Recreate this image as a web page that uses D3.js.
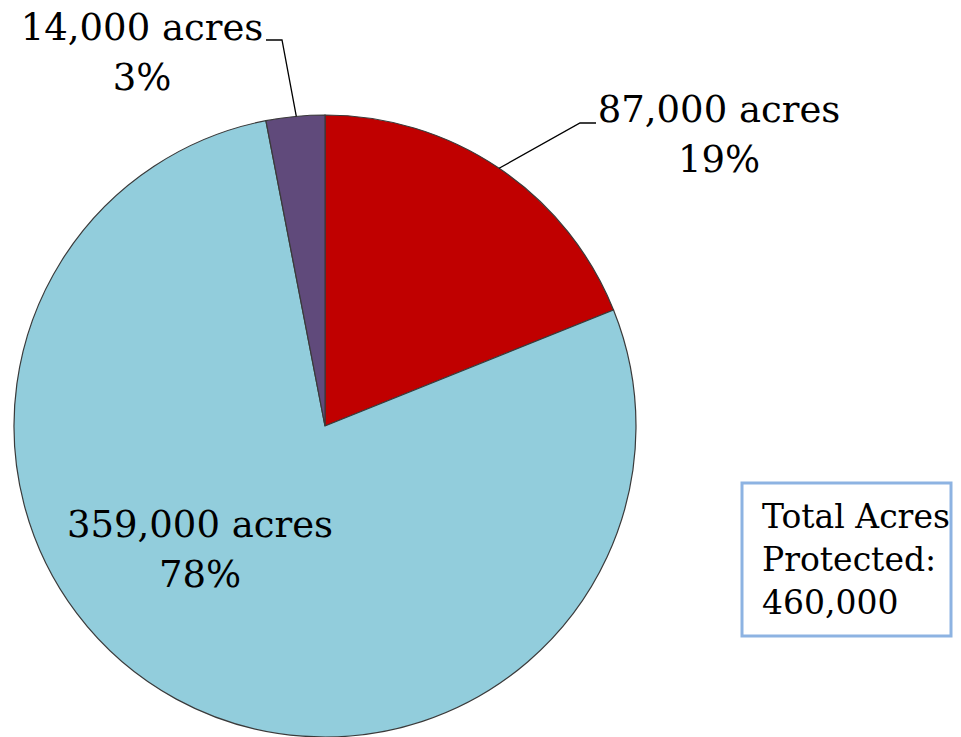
<!DOCTYPE html>
<html>
<head>
<meta charset="utf-8">
<script src="https://cdn.jsdelivr.net/npm/d3@7"></script>
<style>
  body { margin: 0; background: #fff; }
  svg { display: block; }
</style>
</head>
<body>
<div id="vis"></div>
<script>
// chart data
var categories = ["87,000 acres", "359,000 acres", "14,000 acres"];
var acres = [87000, 359000, 14000];
var percents = ["19%", "78%", "3%"];
var colors = ["#C00000", "#92CDDC", "#604A7B"];
var totalLines = ["Total Acres", "Protected:", "460,000"];

var font = '"DejaVu Serif", "Liberation Serif", serif';
var W = 961, H = 737;
var cx = 325, cy = 426, r = 311;

var svg = d3.select("#vis").append("svg")
    .attr("width", W)
    .attr("height", H);

var pie = d3.pie().sort(null).value(d => d);
var arcs = pie(acres);
var arc = d3.arc().innerRadius(0).outerRadius(r);

var g = svg.append("g").attr("transform", "translate(" + cx + "," + cy + ")");

g.selectAll("path")
    .data(arcs)
    .enter()
    .append("path")
    .attr("d", arc)
    .attr("fill", (d, i) => colors[i])
    .attr("stroke", "#3a3a3a")
    .attr("stroke-width", 1.2);

// label positions (center of text block, first baseline)
var labelPos = [
    { x: 719, y: 122 },
    { x: 200, y: 537 },
    { x: 142, y: 40 }
];

arcs.forEach(function (d, i) {
    var t = svg.append("text")
        .attr("text-anchor", "middle")
        .style("font-family", font)
        .style("font-size", "37px")
        .attr("fill", "#000");
    t.append("tspan").attr("x", labelPos[i].x).attr("y", labelPos[i].y).text(categories[i]);
    t.append("tspan").attr("x", labelPos[i].x).attr("y", labelPos[i].y + 50).text(percents[i]);
});

// leader lines
function edgePoint(d) {
    var a = (d.startAngle + d.endAngle) / 2;
    return [cx + Math.sin(a) * r, cy - Math.cos(a) * r];
}
var pRed = edgePoint(arcs[0]);
var pPurple = edgePoint(arcs[2]);
svg.append("polyline")
    .attr("points", [pRed, [580, 123], [596, 123]].map(p => p.join(",")).join(" "))
    .attr("fill", "none")
    .attr("stroke", "#000")
    .attr("stroke-width", 1.3);
svg.append("polyline")
    .attr("points", [[pPurple[0] + 1, pPurple[1]], [282, 40], [266, 40]].map(p => p.join(",")).join(" "))
    .attr("fill", "none")
    .attr("stroke", "#000")
    .attr("stroke-width", 1.3);

// total box
svg.append("rect")
    .attr("x", 742)
    .attr("y", 483)
    .attr("width", 209)
    .attr("height", 153)
    .attr("fill", "#fff")
    .attr("stroke", "#8DB3E2")
    .attr("stroke-width", 3);

svg.append("g").selectAll("text")
    .data(totalLines)
    .enter()
    .append("text")
    .attr("x", 762)
    .attr("y", (d, i) => 528 + i * 43)
    .style("font-family", font)
    .style("font-size", "33px")
    .attr("fill", "#000")
    .text(d => d);
</script>
</body>
</html>
